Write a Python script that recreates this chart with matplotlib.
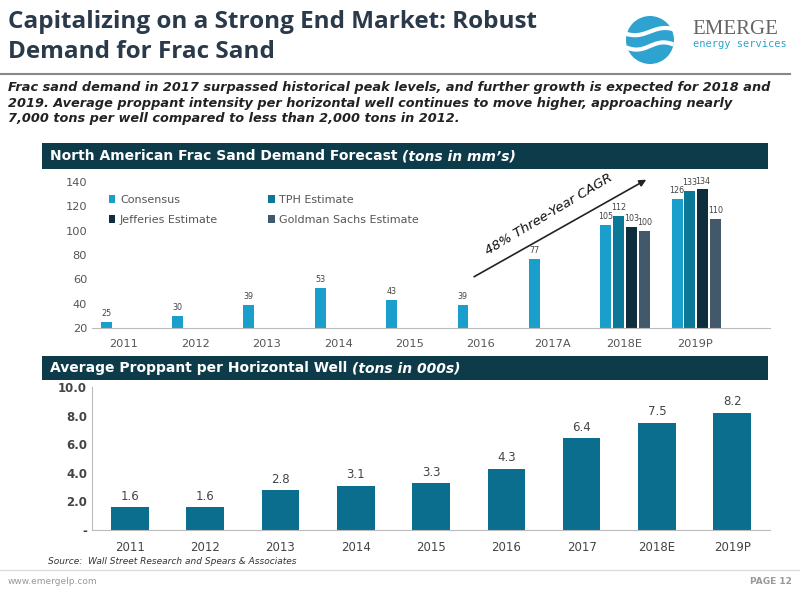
import numpy as np
import matplotlib.pyplot as plt
from matplotlib.patches import Rectangle, Circle

# -----------------------------
# Data
# -----------------------------
demand_years = ['2011', '2012', '2013', '2014', '2015', '2016', '2017A', '2018E', '2019P']
consensus = [25, 30, 39, 53, 43, 39, 77, 105, 126]
tph = [None, None, None, None, None, None, None, 112, 133]
jefferies = [None, None, None, None, None, None, None, 103, 134]
goldman = [None, None, None, None, None, None, None, 100, 110]

well_years = ['2011', '2012', '2013', '2014', '2015', '2016', '2017', '2018E', '2019P']
proppant = [1.6, 1.6, 2.8, 3.1, 3.3, 4.3, 6.4, 7.5, 8.2]

series = [
    ('Consensus', consensus, '#1a9fcc'),
    ('TPH Estimate', tph, '#0c7898'),
    ('Jefferies Estimate', jefferies, '#0e2e3e'),
    ('Goldman Sachs Estimate', goldman, '#41596a'),
]

W, H = 800, 600
fig = plt.figure(figsize=(8, 6), dpi=100)
fig.patch.set_facecolor('white')


def fx(px):
    return px / W


def fy(py):
    return 1 - py / H


# -----------------------------
# Slide header
# -----------------------------
fig.text(fx(8), fy(22), 'Capitalizing on a Strong End Market: Robust', fontsize=17.5,
         fontweight='bold', color='#2b3a4a', va='center', family='Open Sans')
fig.text(fx(8), fy(52), 'Demand for Frac Sand', fontsize=17.5,
         fontweight='bold', color='#2b3a4a', va='center', family='Open Sans')
fig.add_artist(plt.Line2D([fx(0), fx(790)], [fy(74), fy(74)], color='#888888', lw=1.5))

# logo
logo = fig.add_axes([fx(626), fy(64), fx(48), fy(16) - fy(64)])
logo.set_xlim(-1, 1)
logo.set_ylim(-1, 1)
logo.set_aspect('equal')
logo.axis('off')
logo.add_patch(Circle((0, 0), 1, color='#2ea3d0', ec='none'))
t = np.linspace(-1, 1, 50)
logo.plot(t, 0.35 + 0.15 * np.sin(t * 2.5), color='white', lw=3)
logo.plot(t * 0.9, -0.25 + 0.15 * np.sin(t * 2.5), color='white', lw=3)
fig.text(fx(692), fy(29), 'EMERGE', fontsize=15, color='#666666', va='center', family='Liberation Serif')
fig.text(fx(693), fy(44), 'energy services', fontsize=7.5, color='#2ea3d0', va='center', family='DejaVu Sans Mono')

intro = ("Frac sand demand in 2017 surpassed historical peak levels, and further growth is expected for 2018 and\n"
         "2019. Average proppant intensity per horizontal well continues to move higher, approaching nearly\n"
         "7,000 tons per well compared to less than 2,000 tons in 2012.")
fig.text(fx(8), fy(103), intro, fontsize=9.3, fontweight='bold', style='italic',
         color='#222222', va='center', linespacing=1.25)


def banner(y0, y1, bold, ital):
    fig.add_artist(Rectangle((fx(42), fy(y1)), fx(768 - 42), fy(y0) - fy(y1),
                             transform=fig.transFigure, color='#0e3b4a', ec='none'))
    t = fig.text(fx(50), fy((y0 + y1) / 2), bold + ' ', fontsize=10, fontweight='bold',
                 color='white', va='center')
    fig.canvas.draw()
    bb = t.get_window_extent()
    fig.text(bb.x1 / W, fy((y0 + y1) / 2), ital, fontsize=10, fontweight='bold',
             style='italic', color='white', va='center')


banner(143, 169, 'North American Frac Sand Demand Forecast', '(tons in mm\u2019s)')
banner(356, 380, 'Average Proppant per Horizontal Well', '(tons in 000s)')

# -----------------------------
# Top chart
# -----------------------------
ax1 = fig.add_axes([fx(92), fy(328), fx(770 - 92), fy(182) - fy(328)])
x = np.arange(len(demand_years))
w = 0.18
offsets = [-1.4 * w, -0.4 * w, 0.6 * w, 1.6 * w]
handles = []
for (name, vals, col), off in zip(series, offsets):
    xs = [xi + off for xi, v in zip(x, vals) if v is not None]
    vs = [v for v in vals if v is not None]
    h = ax1.bar(xs, [v - 20 for v in vs], bottom=20, width=w * 0.85, color=col, label=name)
    handles.append(h)
    for xi, v in zip(xs, vs):
        ax1.text(xi, v + 3, str(v), ha='center', va='bottom', fontsize=5.8,
                 color='#444444')
ax1.set_ylim(20, 140)
ax1.set_xlim(-0.45, 9.05)
ax1.set_yticks(range(20, 141, 20))
ax1.set_xticks(x)
ax1.set_xticklabels(demand_years)
ax1.tick_params(labelsize=8.2, colors='#555555', length=0)
ax1.tick_params(axis='x', pad=8)
for s in ['top', 'right', 'left']:
    ax1.spines[s].set_visible(False)
ax1.spines['bottom'].set_color('#bbbbbb')
# row order: Consensus, TPH / Jefferies, Goldman
order = [0, 2, 1, 3]
ax1.legend([handles[i] for i in order], [series[i][0] for i in order],
           loc='upper left', ncol=2, frameon=False, handlelength=0.6,
           handleheight=0.6, handletextpad=0.4, columnspacing=4.5, labelspacing=0.9,
           labelcolor='#555555', bbox_to_anchor=(0.01, 0.98), prop={'size': 8})
ax1.annotate('', xy=(7.35, 143), xytext=(4.87, 61), annotation_clip=False,
             arrowprops=dict(arrowstyle='-|>', color='#222222', lw=1.2))
ax1.text(5.95, 113, '48% Three-Year CAGR', rotation=31, fontsize=9.5, style='italic',
         ha='center', va='center', color='#111111')

# -----------------------------
# Bottom chart
# -----------------------------
ax2 = fig.add_axes([fx(92), fy(530), fx(770 - 92), fy(387) - fy(530)])
x2 = np.arange(len(well_years))
ax2.bar(x2, proppant, width=0.5, color='#0b6e8f')
for xi, v in zip(x2, proppant):
    ax2.text(xi, v + 0.3, f'{v:.1f}', ha='center', va='bottom', fontsize=8.5, color='#444444')
ax2.set_ylim(0, 10)
ax2.set_xlim(-0.5, len(well_years) - 0.5)
ax2.set_yticks([0, 2, 4, 6, 8, 10])
ax2.set_yticklabels(['-', '2.0', '4.0', '6.0', '8.0', '10.0'], fontweight='bold')
ax2.set_xticks(x2)
ax2.set_xticklabels(well_years)
ax2.tick_params(labelsize=8.5, colors='#444444', length=0)
ax2.tick_params(axis='x', pad=8)
for s in ['top', 'right']:
    ax2.spines[s].set_visible(False)
ax2.spines['left'].set_color('#bbbbbb')
ax2.spines['bottom'].set_color('#bbbbbb')

# -----------------------------
# Footer
# -----------------------------
fig.text(fx(48), fy(562), 'Source:  Wall Street Research and Spears & Associates', fontsize=6.5,
         style='italic', color='#333333', va='center')
fig.add_artist(plt.Line2D([fx(0), fx(800)], [fy(570), fy(570)], color='#dddddd', lw=1))
fig.text(fx(8), fy(582), 'www.emergelp.com', fontsize=6.5, color='#999999', va='center')
fig.text(fx(792), fy(582), 'PAGE 12', fontsize=6.5, fontweight='bold', color='#999999',
         va='center', ha='right')

fig.savefig('out.png', dpi=100)
